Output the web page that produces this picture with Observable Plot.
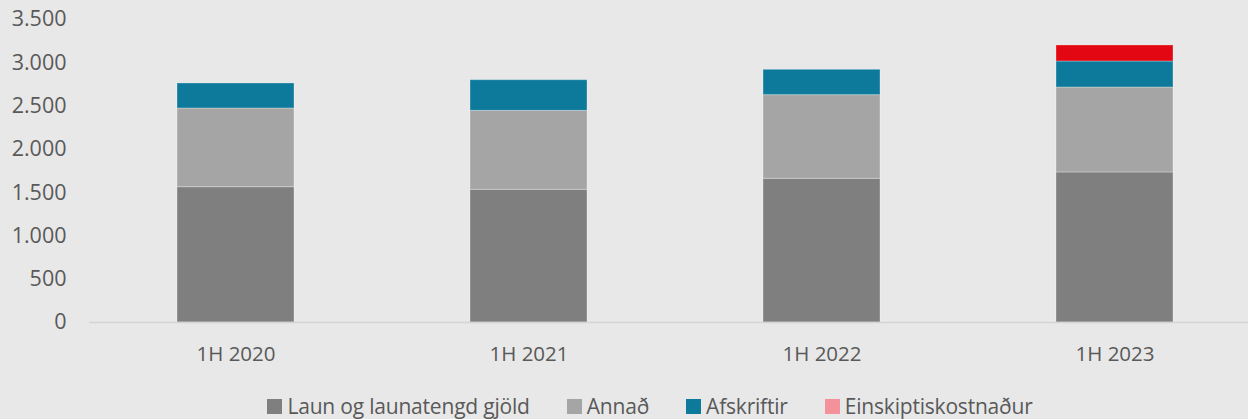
<!DOCTYPE html>
<html>
<head>
<meta charset="utf-8">
<script src="https://cdn.jsdelivr.net/npm/d3@7"></script>
<script src="https://cdn.jsdelivr.net/npm/@observablehq/plot@0.6"></script>
<style>
  html, body { margin: 0; padding: 0; background: #e8e8e8; }
  body { width: 1248px; height: 419px; overflow: hidden; position: relative; font-family: "Open Sans", sans-serif; }
  #chart svg { display: block; background: #e8e8e8; }
  #legend { position: absolute; left: 0; top: 392px; width: 1248px; display: flex; justify-content: center; align-items: center; gap: 37px; font-size: 21px; color: #595959; letter-spacing: -0.2px; padding-left: 52px; box-sizing: border-box; }
  #legend .item { display: flex; align-items: center; gap: 5px; }
  #legend .sw { width: 15px; height: 15px; display: inline-block; }
</style>
</head>
<body>
<div id="chart"></div>
<div id="legend"></div>
<script>
const periods = ["1H 2020", "1H 2021", "1H 2022", "1H 2023"];
const seriesNames = ["Laun og launatengd gjöld", "Annað", "Afskriftir", "Einskiptiskostnaður"];
const laun = [1563, 1533, 1660, 1733];
const annad = [909, 912, 966, 981];
const afskriftir = [289, 354, 293, 301];
const einskiptis = [0, 0, 0, 185];
const yTicks = [0, 500, 1000, 1500, 2000, 2500, 3000, 3500];
const barColors = ["#7f7f7f", "#a5a5a5", "#0e7a9b", "#e30613"];
const legendColors = ["#7f7f7f", "#a5a5a5", "#0e7a9b", "#f4929b"];

const seriesValues = [laun, annad, afskriftir, einskiptis];
const data = [];
seriesNames.forEach((s, si) => {
  periods.forEach((p, pi) => {
    data.push({period: p, series: s, value: seriesValues[si][pi]});
  });
});

const fmt = d => d3.format(",")(d).replace(/,/g, ".");

const chart = Plot.plot({
  width: 1248,
  height: 390,
  marginTop: 19,
  marginBottom: 68,
  marginLeft: 89,
  marginRight: 0,
  style: {background: "#e8e8e8", fontFamily: "'Open Sans', sans-serif", fontSize: "20px", color: "#595959"},
  x: {domain: periods, range: [88.5, 1261], paddingInner: 0.6, paddingOuter: 0.3, label: null},
  y: {domain: [0, 3500], label: null},
  color: {domain: seriesNames, range: barColors},
  marks: [
    Plot.barY(data, Plot.stackY({x: "period", y: "value", fill: "series", order: seriesNames, stroke: "#ffffff", strokeOpacity: 0.3, strokeWidth: 1})),
    Plot.ruleY([0], {stroke: "#d4d4d4", strokeWidth: 1.5}),
    Plot.axisY({ticks: yTicks, tickFormat: fmt, tickSize: 0, tickPadding: 23, fill: "#595959", fontSize: 21.5, label: null}),
    Plot.axisX({tickSize: 0, tickPadding: 24, fill: "#595959", fontSize: 20.5, label: null})
  ]
});
document.getElementById("chart").appendChild(chart);

const legend = document.getElementById("legend");
seriesNames.forEach((s, i) => {
  const item = document.createElement("div");
  item.className = "item";
  const sw = document.createElement("span");
  sw.className = "sw";
  sw.style.background = legendColors[i];
  const t = document.createElement("span");
  t.textContent = s;
  item.appendChild(sw);
  item.appendChild(t);
  legend.appendChild(item);
});
</script>
</body>
</html>
